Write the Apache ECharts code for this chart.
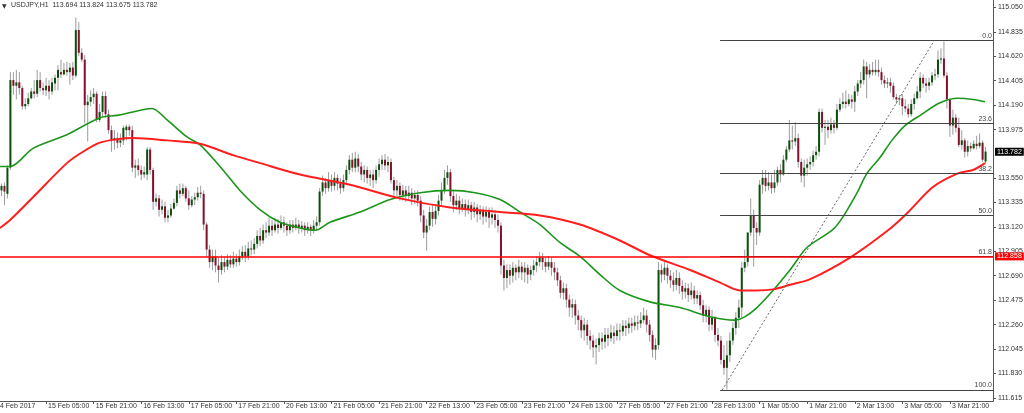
<!DOCTYPE html>
<html><head><meta charset="utf-8">
<script src="https://cdn.jsdelivr.net/npm/echarts@6/dist/echarts.min.js"></script>
<style>html,body{margin:0;padding:0;background:#fff}#c{width:1024px;height:413px}</style>
</head><body><div id="c"></div>
<script>
const N = 334;
const open = [
113.44,113.48,113.41,113.64,114.41,114.36,114.39,114.34,114.18,114.20,
114.25,114.31,114.29,114.41,114.34,114.32,114.36,114.31,114.38,114.43,
114.48,114.46,114.50,114.48,114.52,114.45,114.85,114.65,114.59,114.19,
114.22,114.26,114.29,114.06,114.13,114.27,114.11,113.97,113.88,113.90,
113.86,113.88,113.97,114.00,113.97,113.64,113.66,113.62,113.58,113.58,
113.80,113.62,113.34,113.37,113.27,113.30,113.20,113.22,113.28,113.33,
113.44,113.41,113.46,113.37,113.31,113.36,113.38,113.42,113.41,113.14,
112.92,112.81,112.86,112.78,112.74,112.81,112.77,112.83,112.79,112.84,
112.81,112.86,112.90,112.86,112.93,112.92,112.97,113.04,113.00,113.09,
113.07,113.13,113.09,113.14,113.11,113.16,113.13,113.09,113.14,113.11,
113.14,113.11,113.13,113.09,113.12,113.09,113.13,113.16,113.43,113.51,
113.46,113.53,113.48,113.55,113.50,113.46,113.53,113.62,113.71,113.64,
113.72,113.65,113.58,113.62,113.55,113.58,113.53,113.62,113.67,113.71,
113.66,113.69,113.53,113.44,113.48,113.40,113.44,113.39,113.42,113.37,
113.40,113.35,113.22,113.07,113.13,113.25,113.19,113.26,113.35,113.44,
113.55,113.60,113.39,113.31,113.35,113.28,113.32,113.27,113.31,113.25,
113.29,113.23,113.27,113.21,113.25,113.20,113.23,113.18,113.13,112.78,
112.67,112.74,112.69,112.76,112.72,112.77,112.72,112.76,112.70,112.74,
112.78,112.81,112.85,112.81,112.77,112.81,112.76,112.72,112.65,112.54,
112.58,112.48,112.41,112.44,112.34,112.30,112.21,112.26,112.16,112.12,
112.06,112.08,112.14,112.11,112.17,112.14,112.19,112.16,112.21,112.20,
112.25,112.23,112.27,112.25,112.28,112.27,112.30,112.34,112.26,112.17,
112.04,112.08,112.74,112.70,112.76,112.69,112.65,112.61,112.67,112.60,
112.55,112.58,112.52,112.56,112.49,112.52,112.43,112.34,112.39,112.26,
112.32,112.17,112.12,111.95,111.88,111.99,112.12,112.23,112.32,112.41,
112.76,112.81,113.07,113.22,113.11,113.07,113.49,113.55,113.48,113.51,
113.46,113.51,113.62,113.58,113.71,113.80,113.88,113.87,113.90,113.69,
113.57,113.64,113.67,113.69,113.75,113.78,114.13,113.99,114.00,113.97,
114.02,113.99,114.15,114.20,114.22,114.20,114.24,114.22,114.31,114.38,
114.41,114.53,114.46,114.50,114.48,114.50,114.48,114.41,114.38,114.39,
114.36,114.26,114.24,114.25,114.18,114.16,114.11,114.20,114.25,114.31,
114.43,114.38,114.36,114.39,114.45,114.46,114.59,114.60,114.45,114.24,
114.01,114.08,113.99,113.84,113.88,113.78,113.83,113.81,113.85,113.83,
113.86,113.694];
const high = [
113.50,113.51,113.66,114.48,114.48,114.50,114.48,114.36,114.25,114.30,
114.34,114.41,114.50,114.48,114.39,114.43,114.41,114.43,114.46,114.54,
114.59,114.56,114.57,114.56,114.57,114.96,114.92,114.69,114.63,114.28,
114.32,114.34,114.31,114.20,114.31,114.31,114.15,114.01,113.97,113.95,
113.94,114.01,114.02,114.02,114.01,113.71,113.72,113.66,113.65,113.82,
113.82,113.64,113.41,113.40,113.36,113.34,113.27,113.32,113.37,113.48,
113.50,113.50,113.48,113.44,113.39,113.42,113.47,113.48,113.44,113.16,
112.96,112.92,112.92,112.85,112.87,112.86,112.88,112.87,112.90,112.88,
112.92,112.95,112.96,112.99,113.00,113.02,113.09,113.11,113.14,113.16,
113.20,113.18,113.20,113.19,113.22,113.21,113.16,113.18,113.18,113.20,
113.18,113.17,113.16,113.16,113.14,113.18,113.21,113.46,113.57,113.55,
113.60,113.58,113.60,113.58,113.55,113.58,113.66,113.75,113.77,113.78,
113.76,113.69,113.66,113.65,113.62,113.62,113.66,113.72,113.75,113.76,
113.74,113.72,113.56,113.53,113.51,113.49,113.48,113.48,113.46,113.44,
113.44,113.39,113.27,113.19,113.30,113.31,113.32,113.40,113.51,113.62,
113.66,113.63,113.44,113.41,113.39,113.37,113.36,113.36,113.34,113.34,
113.32,113.31,113.30,113.30,113.29,113.29,113.27,113.23,113.16,112.83,
112.79,112.79,112.81,112.79,112.83,112.81,112.81,112.79,112.78,112.83,
112.86,112.90,112.89,112.85,112.86,112.85,112.81,112.76,112.69,112.63,
112.62,112.52,112.49,112.48,112.39,112.34,112.32,112.30,112.21,112.17,
112.14,112.19,112.19,112.23,112.23,112.26,112.25,112.27,112.27,112.30,
112.30,112.32,112.32,112.34,112.34,112.37,112.41,112.39,112.30,112.21,
112.14,112.81,112.79,112.81,112.79,112.74,112.72,112.74,112.72,112.65,
112.63,112.62,112.63,112.60,112.56,112.55,112.48,112.43,112.42,112.39,
112.34,112.23,112.16,112.08,112.12,112.19,112.28,112.37,112.48,112.81,
112.92,113.07,113.37,113.27,113.16,113.53,113.62,113.62,113.60,113.58,
113.62,113.65,113.67,113.75,113.83,114.06,114.01,114.04,113.94,113.72,
113.71,113.72,113.74,113.79,113.83,114.16,114.16,114.06,114.06,114.08,
114.06,114.20,114.25,114.30,114.32,114.29,114.28,114.36,114.41,114.48,
114.59,114.57,114.55,114.57,114.59,114.59,114.52,114.45,114.43,114.43,
114.39,114.29,114.28,114.29,114.24,114.20,114.24,114.29,114.36,114.48,
114.46,114.43,114.43,114.48,114.51,114.67,114.69,114.75,114.48,114.25,
114.15,114.11,114.08,113.97,113.90,113.88,113.86,113.88,113.92,113.94,
113.88,113.824];
const low = [
113.39,113.31,113.37,113.62,114.28,114.24,114.28,114.15,114.15,114.18,
114.24,114.25,114.26,114.31,114.28,114.27,114.24,114.28,114.32,114.32,
114.43,114.45,114.45,114.37,114.41,114.43,114.62,114.57,114.03,113.87,
114.18,114.20,114.04,114.04,114.09,114.08,113.94,113.78,113.80,113.81,
113.82,113.84,113.88,113.92,113.60,113.55,113.57,113.53,113.55,113.53,
113.58,113.27,113.30,113.21,113.23,113.16,113.16,113.20,113.27,113.30,
113.37,113.39,113.34,113.27,113.29,113.31,113.35,113.37,113.09,112.85,
112.76,112.74,112.72,112.63,112.70,112.72,112.74,112.76,112.76,112.77,
112.78,112.83,112.81,112.83,112.87,112.88,112.93,112.95,112.97,113.02,
113.04,113.04,113.07,113.06,113.09,113.07,113.04,113.06,113.07,113.09,
113.06,113.07,113.04,113.06,113.04,113.06,113.09,113.13,113.39,113.41,
113.43,113.43,113.44,113.44,113.41,113.43,113.50,113.58,113.60,113.60,
113.60,113.53,113.51,113.50,113.48,113.46,113.50,113.56,113.62,113.62,
113.60,113.50,113.39,113.39,113.35,113.35,113.34,113.35,113.31,113.32,
113.30,113.16,113.02,112.91,113.09,113.12,113.14,113.22,113.31,113.41,
113.49,113.34,113.25,113.27,113.23,113.25,113.21,113.23,113.18,113.20,
113.16,113.18,113.14,113.16,113.11,113.14,113.11,113.07,112.70,112.56,
112.58,112.61,112.63,112.65,112.67,112.65,112.63,112.62,112.65,112.69,
112.72,112.77,112.74,112.72,112.74,112.69,112.65,112.60,112.49,112.48,
112.41,112.33,112.32,112.26,112.21,112.14,112.12,112.08,112.04,111.97,
111.91,112.02,112.04,112.05,112.07,112.11,112.09,112.12,112.12,112.16,
112.16,112.18,112.19,112.21,112.21,112.23,112.27,112.19,112.11,111.97,
111.95,112.04,112.63,112.65,112.62,112.58,112.55,112.56,112.53,112.48,
112.49,112.46,112.48,112.44,112.44,112.39,112.28,112.28,112.20,112.21,
112.11,112.07,111.91,111.82,111.69,111.93,112.08,112.17,112.23,112.32,
112.72,112.77,113.04,112.77,112.96,113.04,113.41,113.43,113.44,113.41,
113.42,113.48,113.51,113.57,113.69,113.78,113.80,113.83,113.64,113.51,
113.47,113.57,113.62,113.65,113.71,113.74,113.95,113.84,113.90,113.94,
113.94,113.97,114.13,114.16,114.16,114.18,114.16,114.13,114.27,114.34,
114.37,114.25,114.43,114.45,114.45,114.44,114.37,114.34,114.34,114.30,
114.24,114.20,114.19,114.10,114.13,114.08,114.09,114.15,114.24,114.25,
114.34,114.30,114.32,114.36,114.41,114.43,114.55,114.43,114.16,113.91,
113.93,113.95,113.82,113.80,113.73,113.74,113.78,113.80,113.80,113.81,
113.69,113.675];
const close = [
113.48,113.43,113.64,114.41,114.36,114.39,114.34,114.18,114.20,114.25,
114.31,114.29,114.41,114.34,114.32,114.36,114.31,114.39,114.43,114.50,
114.46,114.50,114.48,114.52,114.45,114.85,114.65,114.59,114.19,114.22,
114.26,114.29,114.06,114.13,114.27,114.11,113.97,113.88,113.90,113.86,
113.88,113.99,114.00,113.97,113.64,113.66,113.62,113.58,113.60,113.80,
113.62,113.34,113.37,113.27,113.30,113.20,113.22,113.28,113.33,113.44,
113.41,113.46,113.37,113.31,113.36,113.38,113.42,113.41,113.14,112.92,
112.81,112.86,112.78,112.74,112.81,112.77,112.83,112.79,112.84,112.81,
112.86,112.90,112.86,112.93,112.92,112.97,113.04,113.00,113.09,113.07,
113.13,113.09,113.14,113.11,113.16,113.13,113.09,113.14,113.11,113.14,
113.11,113.13,113.09,113.12,113.09,113.13,113.16,113.43,113.51,113.46,
113.53,113.48,113.55,113.50,113.46,113.53,113.62,113.71,113.64,113.72,
113.65,113.58,113.62,113.55,113.58,113.53,113.62,113.67,113.71,113.66,
113.69,113.53,113.44,113.48,113.40,113.44,113.39,113.42,113.37,113.40,
113.35,113.22,113.07,113.13,113.25,113.19,113.26,113.35,113.44,113.55,
113.60,113.39,113.31,113.35,113.28,113.32,113.27,113.31,113.25,113.29,
113.23,113.27,113.21,113.25,113.20,113.23,113.18,113.13,112.78,112.67,
112.74,112.69,112.76,112.72,112.77,112.72,112.76,112.70,112.74,112.78,
112.81,112.85,112.81,112.77,112.81,112.76,112.72,112.65,112.54,112.58,
112.48,112.41,112.44,112.34,112.30,112.21,112.26,112.16,112.12,112.06,
112.08,112.14,112.11,112.17,112.14,112.19,112.16,112.21,112.20,112.25,
112.23,112.27,112.25,112.28,112.27,112.30,112.34,112.26,112.17,112.04,
112.08,112.74,112.70,112.76,112.69,112.65,112.61,112.67,112.60,112.55,
112.58,112.52,112.56,112.49,112.52,112.43,112.34,112.39,112.26,112.32,
112.17,112.12,111.95,111.88,111.99,112.12,112.23,112.32,112.41,112.76,
112.81,113.07,113.22,113.11,113.07,113.49,113.55,113.48,113.51,113.46,
113.51,113.62,113.58,113.71,113.80,113.88,113.87,113.90,113.69,113.57,
113.64,113.67,113.69,113.75,113.78,114.13,113.99,114.00,113.97,114.02,
113.99,114.15,114.20,114.22,114.20,114.24,114.22,114.31,114.38,114.41,
114.53,114.46,114.50,114.48,114.50,114.48,114.41,114.38,114.39,114.36,
114.26,114.24,114.25,114.18,114.16,114.11,114.20,114.25,114.31,114.43,
114.38,114.36,114.39,114.45,114.46,114.59,114.60,114.45,114.24,114.01,
114.08,113.99,113.84,113.88,113.78,113.83,113.81,113.85,113.83,113.86,
113.71,113.782];

// moving averages: [bar index, price]
const greenMA = [[-0.5,113.65],[2.9,113.65],[10.6,113.81],[22,113.93],[33.1,114.08],[38.9,114.10],[44.2,114.13],[50.6,114.16],[55.7,114.06],[62.4,113.91],[66.8,113.84],[73.5,113.65],[80.2,113.44],[87,113.27],[93.7,113.16],[100.4,113.11],[105.5,113.09],[110.5,113.16],[120.6,113.25],[130.7,113.36],[140.8,113.42],[150.9,113.44],[159.3,113.42],[167.7,113.36],[174.4,113.25],[181.1,113.14],[187.9,112.98],[194.6,112.86],[201.3,112.70],[208,112.56],[218.1,112.46],[228.2,112.41],[238.3,112.33],[246.7,112.30],[250.1,112.33],[254.1,112.41],[259.5,112.56],[265.2,112.74],[271,112.94],[279.4,113.09],[283.1,113.21],[287.8,113.42],[291.1,113.59],[295.5,113.73],[299.5,113.88],[303.9,114.01],[309,114.10],[315.7,114.21],[321.7,114.25],[326.8,114.24],[330.8,114.22]];
const redMA = [[-0.5,113.11],[2.9,113.18],[10.6,113.38],[22,113.68],[27.4,113.78],[33.1,113.86],[38.9,113.89],[44.2,113.90],[55.7,113.88],[66.8,113.85],[77.9,113.75],[87,113.68],[100.4,113.58],[117.2,113.49],[134,113.37],[150.9,113.29],[167.7,113.25],[181.1,113.22],[194.6,113.14],[208,113.00],[218.1,112.87],[231.6,112.74],[241.7,112.63],[248.4,112.56],[254.1,112.56],[259.5,112.57],[265.2,112.61],[272,112.66],[285.4,112.85],[298.2,113.09],[304.6,113.24],[313.3,113.47],[321.7,113.59],[326.8,113.62],[330.8,113.68]];

// fibonacci
const fibLabels = ['0.0','23.6','38.2','50.0','61.8','100.0'];
const fibPrices = [114.756,114.031,113.588,113.222,112.858,111.685];
const fibStart = 241.7;
const fibDiag = [[242.4,111.685],[313.7,114.756]];
const hLinePrice = 112.858;
const lastPrice = 113.782;

// axis ticks
const yTicks = [115.050,114.835,114.620,114.405,114.190,113.975,113.550,113.335,113.120,112.905,112.690,112.475,112.260,112.045,111.830,111.615];
const xTickIdx = [15,31,47,63,79,95,111,127,143,159,175,191,207,223,239,255,271,287,303,319];
const xTickLabels = ['15 Feb 05:00','15 Feb 21:00','16 Feb 13:00','17 Feb 05:00','17 Feb 21:00','20 Feb 13:00','21 Feb 05:00','21 Feb 21:00','22 Feb 13:00','23 Feb 05:00','23 Feb 21:00','24 Feb 13:00','27 Feb 05:00','27 Feb 21:00','28 Feb 13:00','1 Mar 05:00','1 Mar 21:00','2 Mar 13:00','3 Mar 05:00','3 Mar 21:00'];
const firstLabel = '14 Feb 2017';
const title = 'USDJPY,H1  113.694 113.824 113.675 113.782';

const FONT = 'Liberation Sans';
const candleData = open.map((o, k) => [k, o, high[k], low[k], close[k]]);

const chart = echarts.init(document.getElementById('c'), null, {renderer: 'canvas'});
chart.setOption({
  animation: false,
  backgroundColor: '#ffffff',
  grid: {left: 0, right: 31, top: 0, bottom: 12, outerBoundsMode: 'none', containLabel: false},
  xAxis: {
    type: 'value', min: -0.5, max: N - 0.5, position: 'bottom',
    axisLine: {show: true, onZero: false, lineStyle: {color: '#555', width: 1}},
    axisTick: {show: true, customValues: xTickIdx, length: 3, lineStyle: {color: '#555'}},
    axisLabel: {show: true, customValues: xTickIdx, formatter: v => xTickLabels[xTickIdx.indexOf(Math.round(v))] || '',
      align: 'left', margin: 2, padding: [0,0,0,2], fontSize: 7, fontFamily: FONT, color: '#333'},
    splitLine: {show: false}
  },
  yAxis: {
    type: 'value', position: 'right', min: 111.5886, max: 115.1142, scale: true,
    axisLine: {show: true, onZero: false, lineStyle: {color: '#555', width: 1}},
    axisTick: {show: true, customValues: yTicks, length: 3, lineStyle: {color: '#555'}},
    axisLabel: {show: true, customValues: yTicks, formatter: v => v.toFixed(3), margin: 5,
      fontSize: 7, fontFamily: FONT, color: '#333'},
    splitLine: {show: false}
  },
  graphic: [
    {type: 'text', left: 2, top: 3, style: {text: '▼', fontSize: 6, fontFamily: 'DejaVu Sans', fill: '#333'}},
    {type: 'text', left: 11, top: 2, style: {text: title, fontSize: 7, fontFamily: FONT, fill: '#333'}},
    {type: 'text', left: -4, top: 403, style: {text: firstLabel, fontSize: 7, fontFamily: FONT, fill: '#333'}}
  ],
  series: [
    {
      type: 'custom', name: 'candles', clip: true, z: 2,
      data: candleData,
      encode: {x: 0, y: [1, 2, 3, 4]},
      renderItem: (params, api) => {
        const i = api.value(0), o = api.value(1), h = api.value(2), l = api.value(3), c = api.value(4);
        const pO = api.coord([i, o]), pC = api.coord([i, c]);
        const pH = api.coord([i, h]), pL = api.coord([i, l]);
        const w = 2;
        const x = pO[0];
        const top = Math.min(pO[1], pC[1]), bot = Math.max(pO[1], pC[1]);
        return {type: 'group', children: [
          {type: 'line', shape: {x1: x, y1: pH[1], x2: x, y2: pL[1]}, style: {stroke: '#9c9c9c', lineWidth: 1}},
          {type: 'rect', shape: {x: x - w / 2, y: top, width: w, height: Math.max(bot - top, 1)},
           style: {fill: c >= o ? '#0b4f0b' : '#82102e'}}
        ]};
      }
    },
    {
      type: 'line', name: 'fib', data: [], z: 2,
      markLine: {
        silent: true, symbol: ['none', 'none'], animation: false,
        lineStyle: {color: '#444', width: 1, type: 'solid'},
        data: fibPrices.map((p, k) => [
          {coord: [fibStart, p], label: {show: true, position: 'insideEndTop', distance: 1, formatter: fibLabels[k],
            fontSize: 7, fontFamily: FONT, color: '#444'}},
          {coord: [N - 0.5, p]}
        ]).concat([[
          {coord: fibDiag[0], lineStyle: {type: [2, 2], color: '#666', width: 1}, label: {show: false}},
          {coord: fibDiag[1]}
        ]])
      }
    },
    {
      type: 'line', name: 'ma1', data: greenMA, showSymbol: false, smooth: 0.3, z: 3,
      lineStyle: {color: '#1b961b', width: 1.6}
    },
    {
      type: 'line', name: 'ma2', data: redMA, showSymbol: false, smooth: 0.3, z: 3,
      lineStyle: {color: '#ff1e1e', width: 2},
      markLine: {
        silent: true, symbol: ['none', 'none'], animation: false,
        data: [
          {yAxis: hLinePrice, lineStyle: {color: '#ff0000', width: 1.5, type: 'solid'},
           label: {show: true, position: 'end', distance: 2, formatter: hLinePrice.toFixed(3), color: '#fff',
             backgroundColor: '#ff0000', padding: [1, 2, 0, 2], fontSize: 7, fontFamily: FONT}},
          {yAxis: lastPrice, lineStyle: {color: 'rgba(0,0,0,0)', width: 0},
           label: {show: true, position: 'end', distance: 2, formatter: lastPrice.toFixed(3), color: '#fff',
             backgroundColor: '#000', padding: [1, 2, 0, 2], fontSize: 7, fontFamily: FONT}}
        ]
      }
    }
  ]
});
</script>
</body></html>
